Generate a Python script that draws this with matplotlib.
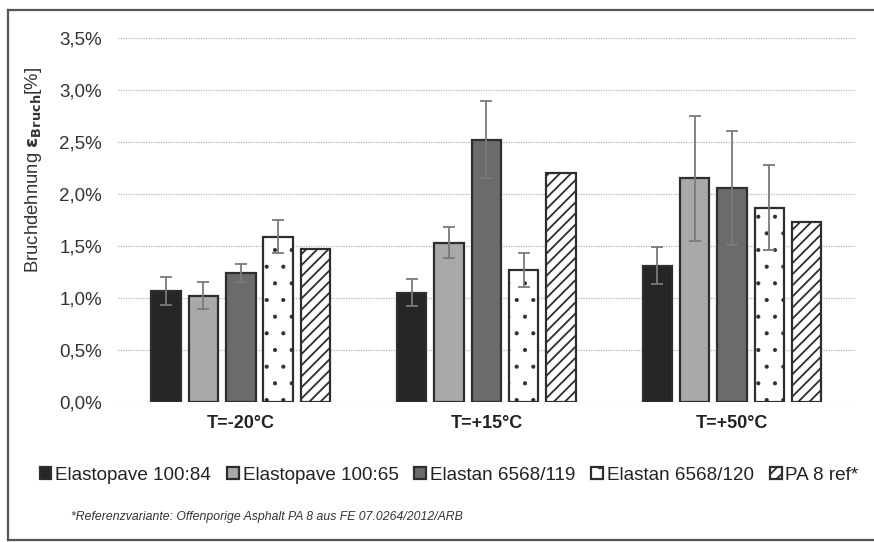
import matplotlib
matplotlib.use("Agg")
import matplotlib.pyplot as plt
import numpy as np
from matplotlib.lines import Line2D

plt.rcParams['font.family'] = ['Liberation Sans', 'DejaVu Sans']
plt.rcParams['hatch.linewidth'] = 1.3
plt.rcParams['hatch.color'] = '#3a3a3a'

categories = ["T=-20°C", "T=+15°C", "T=+50°C"]
series = ["Elastopave 100:84", "Elastopave 100:65", "Elastan 6568/119", "Elastan 6568/120", "PA 8 ref*"]
elastopave_84 = [1.07, 1.05, 1.31]
elastopave_65 = [1.02, 1.53, 2.15]
elastan_119 = [1.24, 2.52, 2.06]
elastan_120 = [1.59, 1.27, 1.87]
pa8_ref = [1.47, 2.20, 1.73]
err_84 = [0.135, 0.13, 0.18]
err_65 = [0.13, 0.15, 0.60]
err_119 = [0.09, 0.37, 0.55]
err_120 = [0.16, 0.16, 0.41]
yticks = [0.0, 0.5, 1.0, 1.5, 2.0, 2.5, 3.0, 3.5]
footnote = "*Referenzvariante: Offenporige Asphalt PA 8 aus FE 07.0264/2012/ARB"

values = [elastopave_84, elastopave_65, elastan_119, elastan_120, pa8_ref]
errors = [err_84, err_65, err_119, err_120, None]
faces = ['#262626', '#a9a9a9', '#6b6b6b', 'white', 'white']
hatches = [None, None, None, '.', '///']
hatch_lw = [1.3, 1.3, 1.3, 0.5, 1.3]

fig = plt.figure(figsize=(8.74, 5.42), dpi=100)
fig.patch.set_facecolor('white')
ax = fig.add_axes([0.135, 0.2583, 0.843, 0.6716])

x = np.arange(len(categories))
step = 0.152
width = 0.12
handles = []
for i, (vals, err) in enumerate(zip(values, errors)):
    pos = x + (i - 2) * step
    with plt.rc_context({'hatch.linewidth': hatch_lw[i]}):
        b = ax.bar(pos, vals, width, color=faces[i], edgecolor='#2e2e2e', linewidth=1.6,
                   hatch=hatches[i], label=series[i], zorder=3)
    handles.append(b)
    if err is not None:
        ax.errorbar(pos, vals, yerr=err, fmt='none', ecolor='#7a7a7a', elinewidth=1.3,
                    capsize=4, capthick=1.3, zorder=4)

ax.set_xlim(-0.5, 2.5)
ax.set_ylim(0, 3.5)
ax.set_yticks(yticks)
ax.set_yticklabels([f"{v:.1f}%".replace('.', ',') for v in yticks], fontsize=13.5, color='#333333')
ax.set_xticks(x)
ax.set_xticklabels(categories, fontsize=13, fontweight='bold', color='#222222')
ax.tick_params(axis='y', length=0, pad=11.5)
ax.tick_params(axis='x', length=0, pad=9)
for s in ax.spines.values():
    s.set_visible(False)
ax.yaxis.grid(True, linestyle=(0, (1, 1)), color='#b5b5b5', linewidth=0.9, zorder=0)
ax.set_axisbelow(True)

ax.set_ylabel(r"Bruchdehnung $\mathbf{\varepsilon_{Bruch}}$[%]", fontsize=13.3, color='#333333')
ax.yaxis.set_label_coords(-0.1, 0.637)

leg = fig.legend(handles=handles, labels=series, loc='center', bbox_to_anchor=(0.514, 0.1236),
                 ncol=5, frameon=False, fontsize=13.6, handlelength=0.62, handleheight=0.62,
                 handletextpad=0.2, columnspacing=0.85, borderaxespad=0, borderpad=0)
for t in leg.get_texts():
    t.set_color('#222222')

fig.text(0.081, 1 - 517 / 542, footnote, fontsize=8.8, style='italic', color='#333333', va='center')

frame_kw = dict(color='#555555', linewidth=1.6, transform=fig.transFigure)
fig.add_artist(Line2D([0.0095, 0.0095], [1 - 540 / 542, 1 - 10 / 542], **frame_kw))
fig.add_artist(Line2D([0.0095, 1.0], [1 - 10 / 542, 1 - 10 / 542], **frame_kw))
fig.add_artist(Line2D([0.0095, 1.0], [1 - 540 / 542, 1 - 540 / 542], **frame_kw))

fig.savefig("out.png", dpi=100)
